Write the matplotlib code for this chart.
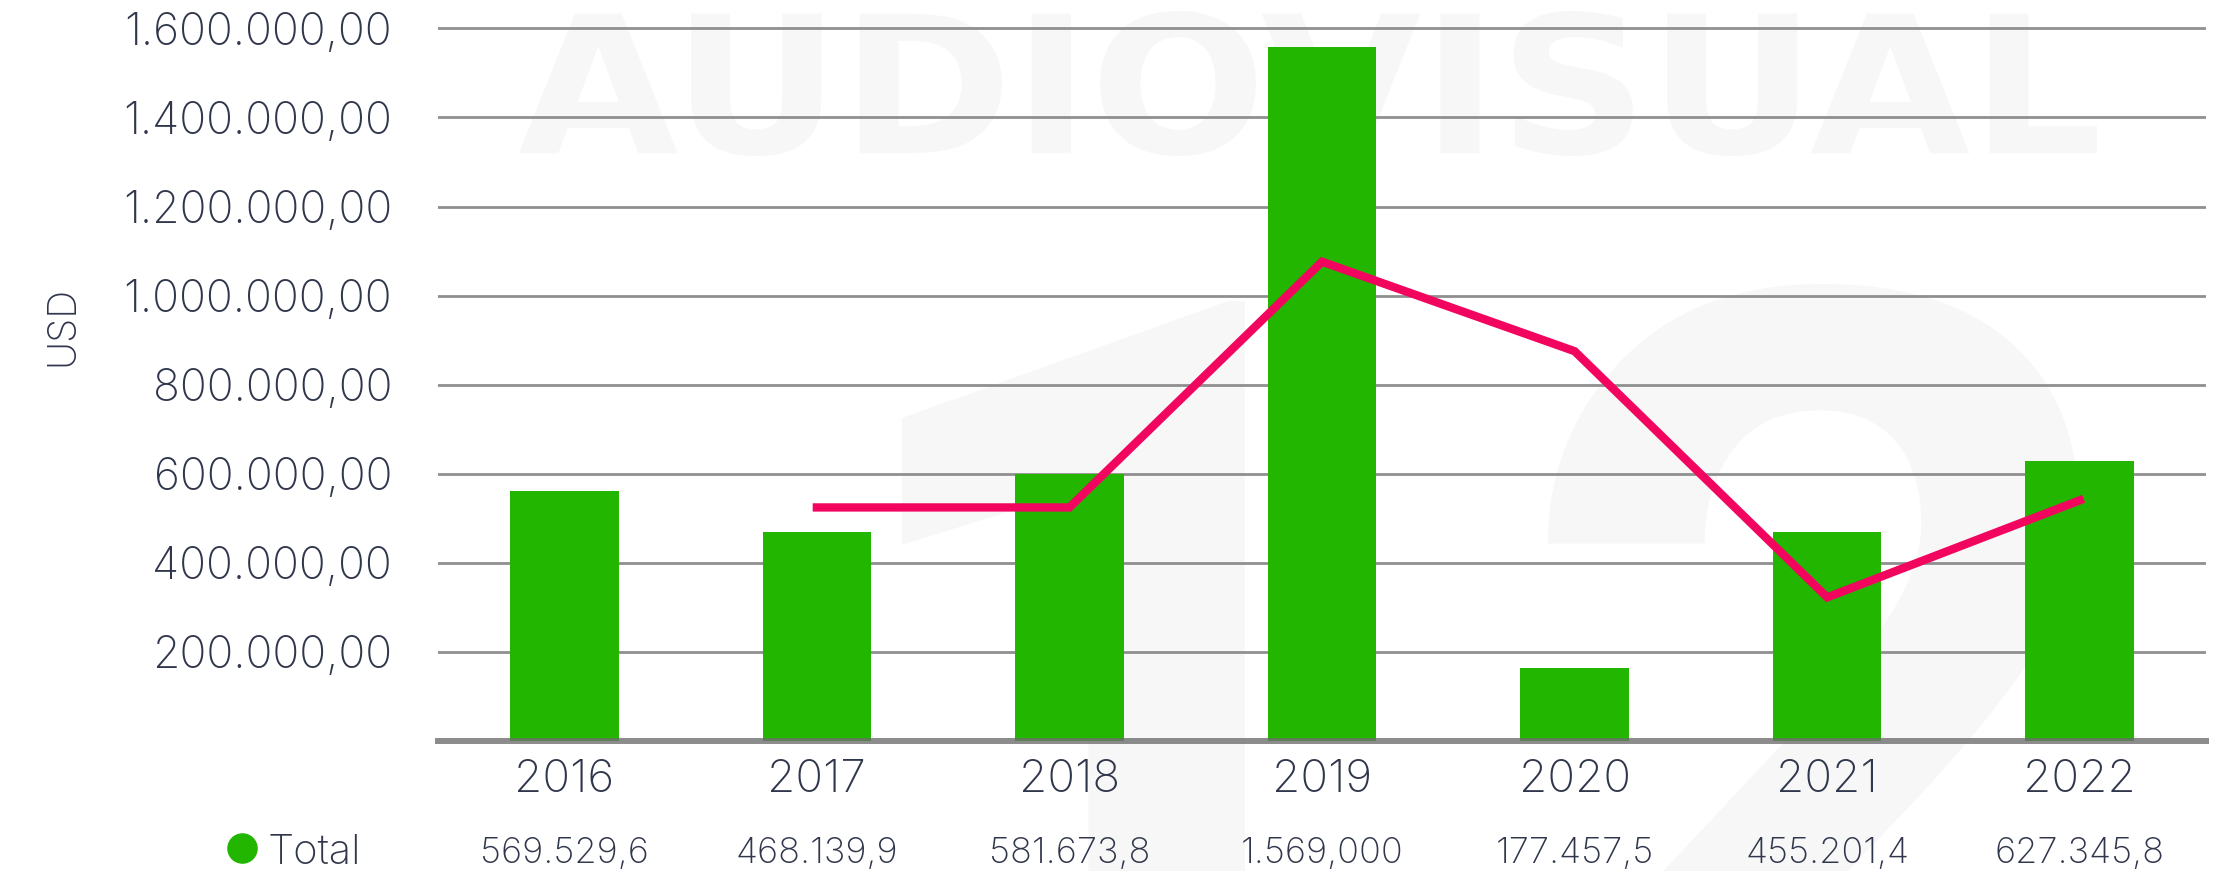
import matplotlib
matplotlib.use('Agg')
import matplotlib.pyplot as plt
from matplotlib.textpath import TextPath
from matplotlib.font_manager import FontProperties
from matplotlib.patches import PathPatch
from matplotlib.transforms import Affine2D, IdentityTransform, blended_transform_factory
from matplotlib.lines import Line2D

years = ['2016', '2017', '2018', '2019', '2020', '2021', '2022']
totals = [562000, 469000, 600000, 1558000, 163000, 469000, 629000]
trend_years = ['2017', '2018', '2019', '2020', '2021', '2022']
trend = [524000, 524000, 1076000, 875000, 322000, 540000]
table_labels = ['569.529,6', '468.139,9', '581.673,8', '1.569,000',
                '177.457,5', '455.201,4', '627.345,8']
yticks = [200000, 400000, 600000, 800000, 1000000, 1200000, 1400000, 1600000]

GREEN = '#22b600'
PINK = '#f2055f'
TXT = '#30364b'
WM = '#f7f7f7'

plt.rcParams['font.family'] = ['Inter', 'DejaVu Sans']
plt.rcParams['font.weight'] = 'light'


def fmt(v):
    return f'{v:,.2f}'.replace(',', 'X').replace('.', ',').replace('X', '.')


def stretched_text(fig, s, x0, x1, y0, y1):
    # text squeezed into a pixel box, used for the faint background title
    path = TextPath((0, 0), s, size=100, prop=FontProperties(family='DejaVu Sans', weight='bold'))
    ext = path.get_extents()
    tr = Affine2D().translate(-ext.x0, -ext.y0).scale((x1 - x0) / ext.width,
                                                      (y1 - y0) / ext.height).translate(x0, y0)
    fig.add_artist(PathPatch(tr.transform_path(path), transform=IdentityTransform(),
                             fc=WM, ec='none', zorder=-5))


def glyph(fig, s, scale, top, left=None, right=None):
    path = TextPath((0, 0), s, size=100, prop=FontProperties(family='Roboto', weight='bold'))
    ext = path.get_extents()
    tx = left if left is not None else right - ext.width * scale
    tr = Affine2D().translate(-ext.x0, -ext.y1).scale(scale).translate(tx, top)
    fig.add_artist(PathPatch(tr.transform_path(path), transform=IdentityTransform(),
                             fc=WM, ec='none', zorder=-5))


W, H = 2229, 871
fig = plt.figure(figsize=(W / 100, H / 100), dpi=100)

# background watermark
stretched_text(fig, 'AUDIOVISUAL', 519, 2097, H - 156, H - 11)
p2 = TextPath((0, 0), '2', size=100, prop=FontProperties(family='Roboto', weight='bold'))
sc = 556 / p2.get_extents().width
glyph(fig, '2', sc, H - 284, left=1548)
glyph(fig, '1', sc, H - 301, right=1245)

ax = fig.add_axes([0.1965, 0.1496, 0.7932, 0.8203])
ax.patch.set_alpha(0)

x = list(range(len(years)))
ax.bar(x, totals, width=0.43, color=GREEN, zorder=2)
xt = [years.index(y) for y in trend_years]
ax.plot(xt, trend, color=PINK, linewidth=6, zorder=4, solid_joinstyle='miter')
ax.axhline(0, color='#6f6f6f', linewidth=4.3, alpha=0.8, zorder=3, clip_on=False)

ax.set_xlim(-0.5, len(years) - 0.5)
ax.set_ylim(0, 1605000)
ax.set_yticks(yticks)
ax.set_yticklabels([fmt(v) for v in yticks])
ax.set_xticks(x)
ax.set_xticklabels(years)
ax.yaxis.grid(True, color='#8f8f8f', linewidth=2)
ax.set_axisbelow(True)
for sp in ax.spines.values():
    sp.set_visible(False)
ax.tick_params(axis='y', length=0, pad=33, labelsize=32, labelcolor=TXT)
ax.tick_params(axis='x', length=0, pad=13, labelsize=33, labelcolor=TXT)

fig.text(62.5 / W, 1 - 326 / H, 'USD', rotation=90, ha='center', va='center',
         fontsize=28, color=TXT)

# table row under the chart
tr = blended_transform_factory(ax.transData, fig.transFigure)
for i, lab in enumerate(table_labels):
    fig.text(i, 0.009, lab, transform=tr, ha='center', va='baseline', fontsize=26, color=TXT)
fig.add_artist(Line2D([241.5 / W], [1 - 848 / H], marker='o', markersize=21, color=GREEN,
                      transform=fig.transFigure))
fig.text(268 / W, 0.009, 'Total', ha='left', va='baseline', fontsize=30, color=TXT)

fig.savefig('out.png', dpi=100)
